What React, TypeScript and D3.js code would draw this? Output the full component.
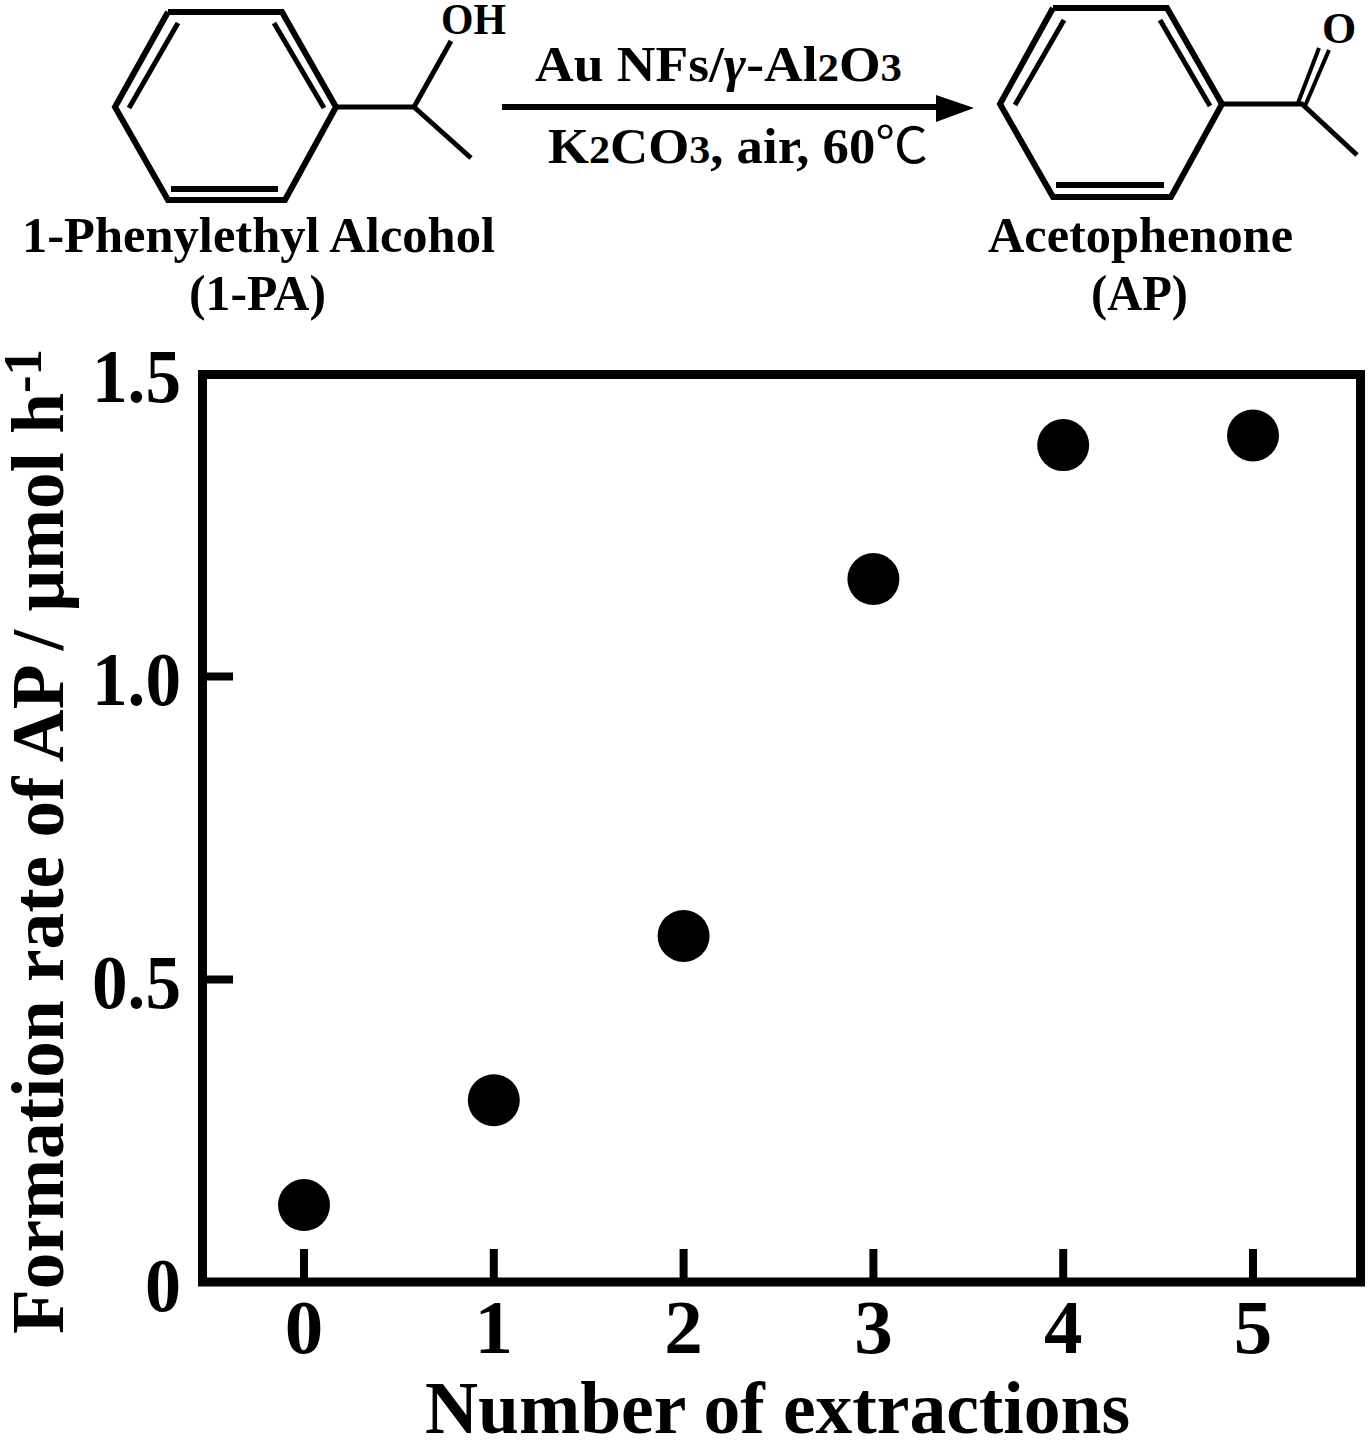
import React from "react";
import * as d3 from "d3";

const extractions = [0, 1, 2, 3, 4, 5];
const formationRate = [0.127, 0.3, 0.571, 1.16, 1.381, 1.397];
const xTicks = [0, 1, 2, 3, 4, 5];
const yTicks = [0, 0.5, 1.0, 1.5];
const yTickLabels = ["0", "0.5", "1.0", "1.5"];

const FONT = '"Liberation Serif", "Times New Roman", serif';
const x = d3.scaleLinear().domain([0, 5]).range([304, 1253]);
const y = d3.scaleLinear().domain([0, 1.5]).range([1282, 373]);
const line = d3.line();

type P = [number, number];
const seg = (pts: P[], w: number, key: string) => (
  <path key={key} d={line(pts) || ""} fill="none" stroke="#000" strokeWidth={w} strokeLinejoin="miter" />
);

function T(p: any) {
  const { children, size = 50, ...rest } = p;
  return (
    <text fontFamily={FONT} fontWeight="bold" fontSize={size} fill="#000" lengthAdjust="spacingAndGlyphs" {...rest}>
      {children}
    </text>
  );
}

export default function App() {
  return (
    <svg width={1370} height={1442} viewBox="0 0 1370 1442" style={{ position: "absolute", left: 0, top: 0, background: "#fff" }}>
      {/* reactant */}
      {seg([[168, 12], [282, 12], [336, 107], [285, 200], [168, 200], [115, 107], [168, 12]], 6, "r1")}
      {seg([[178, 23], [129, 108]], 5, "r1a")}
      {seg([[274, 23], [324, 108]], 5, "r1b")}
      {seg([[171, 189], [278, 189]], 6, "r1c")}
      {seg([[336, 107], [414, 107], [451, 41]], 5, "r1d")}
      {seg([[414, 107], [471, 158]], 5, "r1e")}
      <T x={441} y={34} size={44} textLength={65}>OH</T>
      <T x={22} y={252} textLength={473}>1-Phenylethyl Alcohol</T>
      <T x={189} y={310} textLength={137}>(1-PA)</T>

      {/* arrow */}
      {seg([[502, 107], [940, 107]], 6, "a1")}
      <path d={line([[936, 95], [974, 108], [936, 122]]) + "Z"} fill="#000" />
      <T x={535} y={81} textLength={367}>
        Au NFs/<tspan fontStyle="italic">γ</tspan>-Al<tspan fontSize={40}>2</tspan>O<tspan fontSize={40}>3</tspan>
      </T>
      <T x={548} y={163} textLength={380}>
        K<tspan fontSize={40}>2</tspan>CO<tspan fontSize={40}>3</tspan>, air, 60<tspan fontFamily='"Noto Sans CJK JP"' fontWeight="normal">℃</tspan>
      </T>

      {/* product */}
      {seg([[1053, 8], [1167, 8], [1222, 104], [1171, 197], [1053, 197], [1000, 104], [1053, 8]], 6, "p1")}
      {seg([[1064, 20], [1015, 105]], 5, "p1a")}
      {seg([[1160, 20], [1210, 106]], 5, "p1b")}
      {seg([[1056, 185], [1164, 185]], 6, "p1c")}
      {seg([[1222, 104], [1302, 104], [1357, 155]], 5, "p1d")}
      {seg([[1298, 103], [1319, 48]], 4, "p1e")}
      {seg([[1305, 106], [1329, 50]], 4, "p1f")}
      <T x={1322} y={43} size={44}>O</T>
      <T x={988} y={252} textLength={305}>Acetophenone</T>
      <T x={1091} y={310} textLength={97}>(AP)</T>

      {/* frame */}
      <rect x={202.5} y={374.5} width={1158} height={907.5} fill="none" stroke="#000" strokeWidth={9} />
      {xTicks.map((t) => (
        <line key={t} x1={x(t)} x2={x(t)} y1={1278} y2={1249} stroke="#000" strokeWidth={8} />
      ))}
      {yTicks.filter((t) => t > 0 && t < 1.5).map((t) => (
        <line key={t} x1={207} x2={233} y1={y(t) + 0.5} y2={y(t) + 0.5} stroke="#000" strokeWidth={8} />
      ))}
      {xTicks.map((t) => (
        <T key={t} x={x(t)} y={1353} size={77} textAnchor="middle">{t}</T>
      ))}
      {yTicks.map((t, i) => (
        <T key={t} x={181} y={y(t) + 29} size={77} textAnchor="end" textLength={i === 0 ? 36 : 89}>{yTickLabels[i]}</T>
      ))}
      <T x={425} y={1433} size={75} textLength={705}>Number of extractions</T>
      <T transform="translate(63,1334) rotate(-90)" size={75} textLength={985}>
        Formation rate of AP / μmol h<tspan fontSize={54} dy={-22}>-1</tspan>
      </T>

      {/* points */}
      {extractions.map((e, i) => (
        <circle key={e} cx={x(e)} cy={y(formationRate[i])} r={26} fill="#000" />
      ))}
    </svg>
  );
}
